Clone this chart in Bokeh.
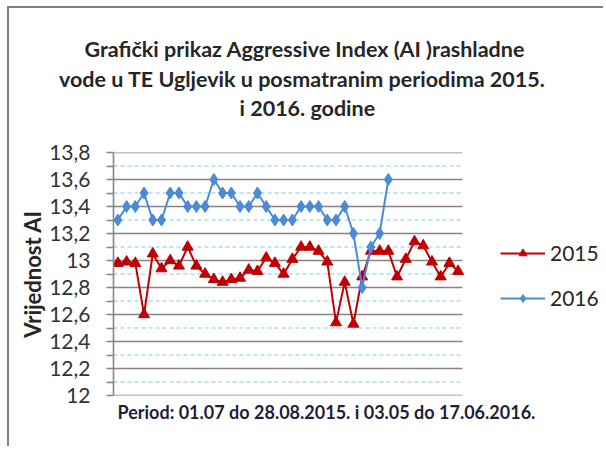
from bokeh.plotting import figure
from bokeh.models import FixedTicker, Title, Legend, LegendItem, Range1d, ColumnDataSource
from bokeh.embed import file_html
from bokeh.resources import INLINE

title_lines = [
    "Grafički  prikaz Aggressive Index (AI )rashladne",
    "vode u TE Ugljevik u posmatranim  periodima 2015.",
    "i 2016. godine",
]
x_title = "Period: 01.07 do 28.08.2015. i 03.05 do 17.06.2016."
y_title = "Vrijednost AI"
series_names = ["2015", "2016"]

categories = list(range(1, 41))

values_2015 = [12.98, 12.99, 12.98, 12.60, 13.05, 12.94, 13.00, 12.96, 13.10, 12.96,
               12.90, 12.86, 12.84, 12.86, 12.87, 12.93, 12.92, 13.02, 12.98, 12.90,
               13.01, 13.10, 13.10, 13.07, 12.99, 12.54, 12.84, 12.53, 12.88, 13.07,
               13.07, 13.07, 12.88, 13.01, 13.14, 13.11, 12.99, 12.88, 12.98, 12.92]

values_2016 = [13.3, 13.4, 13.4, 13.5, 13.3, 13.3, 13.5, 13.5, 13.4, 13.4,
               13.4, 13.6, 13.5, 13.5, 13.4, 13.4, 13.5, 13.4, 13.3, 13.3,
               13.3, 13.4, 13.4, 13.4, 13.3, 13.3, 13.4, 13.2, 12.8, 13.1,
               13.2, 13.6]

y_ticks = [12.0, 12.2, 12.4, 12.6, 12.8, 13.0, 13.2, 13.4, 13.6, 13.8]
y_tick_labels = ["12", "12,2", "12,4", "12,6", "12,8", "13", "13,2", "13,4", "13,6", "13,8"]
y_minor_ticks = [12.1, 12.3, 12.5, 12.7, 12.9, 13.1, 13.3, 13.5, 13.7]

FONT = "Lato"
TXT = "#262626"

# layout (pixels)
W, H = 596, 440
LEFT, TOP, BOTTOM = 104, 144, 53
CAT_AREA = 349           # pixels taken by the category axis
frame_w = W - LEFT

x0 = categories[0] - 0.5
x1 = categories[-1] + 0.5
x_end = x0 + (x1 - x0) * frame_w / CAT_AREA

p = figure(width=W, height=H, output_backend="svg", toolbar_location=None,
           x_range=Range1d(x0, x_end),
           y_range=Range1d(y_ticks[0], y_ticks[-1]),
           min_border_left=LEFT, min_border_right=0, min_border_top=TOP,
           min_border_bottom=BOTTOM)
p.styles = {"margin-left": "7px", "margin-top": "6px",
            "border-left": "2px solid #808080", "border-top": "2px solid #808080"}
p.outline_line_color = None
p.background_fill_color = "white"
p.border_fill_color = "white"

p.xaxis.visible = False
p.xgrid.visible = False
p.ygrid.visible = False

# horizontal grid lines limited to the category area
n = len(y_ticks)
m = len(y_minor_ticks)
p.segment(x0=[x0] * m, y0=y_minor_ticks, x1=[x1] * m, y1=y_minor_ticks,
          line_color="#80c8f0", line_width=1.2, line_dash="4 3")
p.segment(x0=[x0] * n, y0=y_ticks, x1=[x1] * n, y1=y_ticks,
          line_color="#858585", line_width=1.6)

ticker = FixedTicker(ticks=y_ticks, minor_ticks=y_minor_ticks)
yax = p.yaxis[0]
yax.ticker = ticker
yax.major_label_overrides = dict(zip(y_ticks, y_tick_labels))
yax.axis_line_color = "#858585"
yax.axis_line_width = 1.6
yax.major_tick_line_color = "#858585"
yax.minor_tick_line_color = "#858585"
yax.major_tick_out = 7
yax.major_tick_in = 0
yax.minor_tick_out = 7
yax.minor_tick_in = 0
yax.major_tick_line_width = 1.5
yax.minor_tick_line_width = 1.5
yax.major_label_standoff = 16
yax.major_label_text_font = FONT
yax.major_label_text_font_size = "21px"
yax.major_label_text_color = "#333333"
yax.axis_label = y_title
yax.axis_label_text_font = FONT
yax.axis_label_text_font_size = "22px"
yax.axis_label_text_font_style = "bold"
yax.axis_label_text_color = TXT
yax.axis_label_standoff = 0

src15 = ColumnDataSource(dict(x=categories[:len(values_2015)], y=values_2015))
src16 = ColumnDataSource(dict(x=categories[:len(values_2016)], y=values_2016))

r1 = p.line("x", "y", source=src15, line_color="#C00000", line_width=2)
r2 = p.scatter("x", "y", source=src15, marker="triangle", size=11,
               fill_color="#C00000", line_color="#C00000")
r3 = p.line("x", "y", source=src16, line_color="#4a8ad6", line_width=2)
r4 = p.scatter("x", "y", source=src16, marker="diamond", size=12,
               fill_color="#4a8ad6", line_color="#4a8ad6")

legend = Legend(items=[LegendItem(label=series_names[0], renderers=[r1, r2]),
                       LegendItem(label=series_names[1], renderers=[r3, r4])],
                location=(387, 85), orientation="vertical",
                glyph_width=45, glyph_height=20, label_standoff=5, spacing=20,
                padding=0, margin=0, border_line_color=None, background_fill_alpha=0,
                label_text_font=FONT, label_text_font_size="21px", label_text_color=TXT)
p.add_layout(legend)

p.add_layout(Title(text=x_title, align="left", offset=4, standoff=6,
                   text_font=FONT, text_font_size="18px", text_font_style="bold",
                   text_color="#1f1f3a"), "below")

title_kw = dict(align="left", text_font=FONT, text_font_size="21.5px",
                text_font_style="bold", text_color=TXT)
# spacer between the frame and the last title line
p.add_layout(Title(text=" ", standoff=5.5, align="left", text_font=FONT,
                   text_font_size="19px"), "above")
# (line, standoff, horizontal offset from the frame's left edge)
for line, so, off in zip(reversed(title_lines), [1, 1, 3], [126, -54.5, -29]):
    p.add_layout(Title(text=line, standoff=so, offset=off, **title_kw), "above")

open("out.html", "w").write(file_html(p, INLINE))
